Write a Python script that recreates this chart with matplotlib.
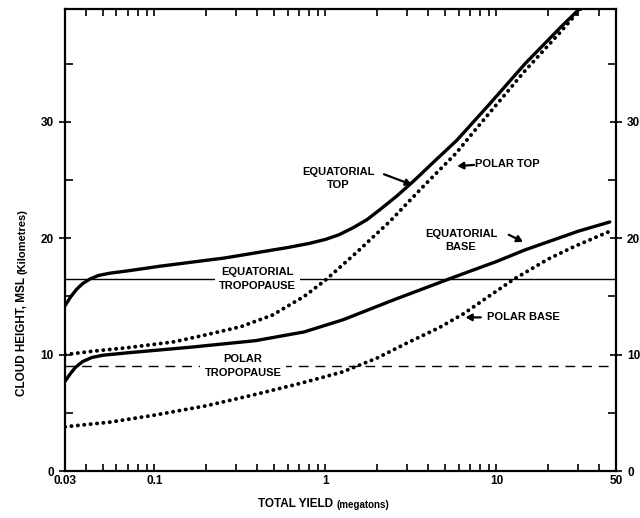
import matplotlib
matplotlib.use("Agg")
import matplotlib.pyplot as plt
from matplotlib.ticker import FixedLocator, FixedFormatter, NullFormatter

plt.rcParams['font.family'] = ['Liberation Sans', 'DejaVu Sans']

# cloud top / base heights (km) against total yield (Mt)
eq_top_x = [0.03, 0.0325, 0.035, 0.038, 0.042, 0.047, 0.055, 0.07, 0.108, 0.256, 0.6,
            0.8, 1.0, 1.2, 1.45, 1.75, 2.1, 2.6, 3.27, 4.4, 5.85, 9.2, 14.7, 23.6, 31]
eq_top_y = [14.2, 15.0, 15.6, 16.1, 16.5, 16.8, 17.0, 17.2, 17.6, 18.3, 19.2,
            19.55, 19.9, 20.3, 20.9, 21.6, 22.5, 23.6, 24.9, 26.7, 28.4, 31.6, 35.0, 38.1, 39.8]

polar_top_x = [0.03, 0.044, 0.07, 0.13, 0.2, 0.32, 0.49, 0.75, 1.0, 1.5, 2.4, 3.7,
               5.8, 7.7, 14.7, 23.6, 31]
polar_top_y = [10.0, 10.3, 10.6, 11.1, 11.7, 12.4, 13.4, 15.0, 16.4, 18.7, 21.5, 24.4,
               27.3, 29.5, 34.4, 37.7, 39.7]

eq_base_x = [0.03, 0.032, 0.0345, 0.038, 0.043, 0.05, 0.069, 0.166, 0.39, 0.75, 1.27,
             2.5, 5.5, 10, 14.7, 30, 46]
eq_base_y = [7.7, 8.3, 8.9, 9.4, 9.75, 9.95, 10.15, 10.65, 11.2, 11.95, 13.0,
             14.7, 16.6, 18.0, 19.0, 20.6, 21.4]

polar_base_x = [0.03, 0.055, 0.1, 0.2, 0.37, 0.7, 1.25, 2.0, 3.0, 4.6, 6.4, 9.0, 12.7,
                20, 28.6, 46]
polar_base_y = [3.8, 4.2, 4.8, 5.6, 6.5, 7.5, 8.5, 9.7, 11.0, 12.3, 13.5, 15.0, 16.5,
                18.2, 19.3, 20.6]

eq_tropopause = 16.5
polar_tropopause = 9.0

xticks = [0.03, 0.1, 1, 10, 50]
xtick_labels = ['0.03', '0.1', '1', '10', '50']
xminor = [0.04, 0.05, 0.06, 0.07, 0.08, 0.09,
          0.2, 0.3, 0.4, 0.5, 0.6, 0.7, 0.8, 0.9,
          2, 3, 4, 5, 6, 7, 8, 9, 20, 30, 40]
yticks = [0, 10, 20, 30]
yminor = [5, 15, 25, 35]

fig = plt.figure(figsize=(6.4, 5.18), dpi=100)
ax = fig.add_axes([65 / 640, 1 - 471 / 518, (616 - 65) / 640, (471 - 9) / 518])
ax.set_xscale('log')
ax.set_xlim(0.03, 50)
ax.set_ylim(0, 39.7)

# tropopause levels (thin)
ax.axhline(eq_tropopause, color='black', lw=1.0, zorder=1)
ax.axhline(polar_tropopause, color='black', lw=1.0, ls=(0, (7, 5)), zorder=1)

# cloud curves
ax.plot(eq_top_x, eq_top_y, color='black', lw=2.4, solid_capstyle='round',
        solid_joinstyle='round', zorder=3)
ax.plot(eq_base_x, eq_base_y, color='black', lw=2.4, solid_capstyle='round',
        solid_joinstyle='round', zorder=3)
dot = (0, (0.05, 1.6))
ax.plot(polar_top_x, polar_top_y, color='black', lw=2.8, ls=dot, dash_capstyle='round', zorder=3)
ax.plot(polar_base_x, polar_base_y, color='black', lw=2.8, ls=dot, dash_capstyle='round', zorder=3)

lbl = dict(fontsize=8, fontweight='bold', linespacing=1.45)
wbox = dict(facecolor='white', edgecolor='none', pad=3)
ax.text(0.40, eq_tropopause, 'EQUATORIAL\nTROPOPAUSE', ha='center', va='center',
        bbox=wbox, zorder=2, **lbl)
ax.text(0.33, polar_tropopause, 'POLAR\nTROPOPAUSE', ha='center', va='center',
        bbox=wbox, zorder=2, **lbl)

arrow = dict(arrowstyle='-|>,head_length=0.35,head_width=0.2', color='black', lw=1.6,
             shrinkA=0, shrinkB=0)
ax.text(1.19, 25.15, 'EQUATORIAL\nTOP', ha='center', va='center', **lbl)
ax.annotate('', xy=(3.2, 24.6), xytext=(2.2, 25.5), arrowprops=arrow)
ax.text(7.5, 26.4, 'POLAR TOP', ha='left', va='center', **lbl)
ax.annotate('', xy=(5.9, 26.2), xytext=(7.4, 26.3), arrowprops=arrow)
ax.text(6.2, 19.8, 'EQUATORIAL\nBASE', ha='center', va='center', **lbl)
ax.annotate('', xy=(14.3, 19.7), xytext=(11.8, 20.3), arrowprops=arrow)
ax.text(8.8, 13.25, 'POLAR BASE', ha='left', va='center', **lbl)
ax.annotate('', xy=(6.6, 13.2), xytext=(8.1, 13.2), arrowprops=arrow)

# axes, ticks
for s in ax.spines.values():
    s.set_linewidth(1.6)
ax.xaxis.set_major_locator(FixedLocator(xticks))
ax.xaxis.set_major_formatter(FixedFormatter(xtick_labels))
ax.xaxis.set_minor_locator(FixedLocator(xminor))
ax.xaxis.set_minor_formatter(NullFormatter())
ax.yaxis.set_major_locator(FixedLocator(yticks))
ax.yaxis.set_minor_locator(FixedLocator(yminor))
ax.tick_params(axis='x', which='both', direction='in', top=True, bottom=True,
               length=5, width=1.2, pad=3)
ax.tick_params(axis='y', which='major', direction='inout', left=True, right=True,
               labelleft=True, labelright=True, length=8, width=1.2, pad=4)
ax.tick_params(axis='y', which='minor', direction='in', left=True, right=True,
               length=6, width=1.2)
for t in ax.get_xticklabels() + ax.get_yticklabels():
    t.set_fontsize(8.5)
    t.set_fontweight('bold')

# axis titles with smaller unit text
xl = fig.text(258 / 640, 1 - 510 / 518, 'TOTAL YIELD ', ha='left', va='bottom',
              fontsize=8.5, fontweight='bold')
ax.annotate('(megatons)', xy=(1, 0), xycoords=xl, ha='left', va='bottom',
            fontsize=7, fontweight='bold')
yl = fig.text(22 / 640, 1 - 396 / 518, 'CLOUD HEIGHT, MSL ', ha='center', va='bottom',
              rotation=90, fontsize=8.5, fontweight='bold')
ax.annotate('(Kilometres)', xy=(0.5, 1), xycoords=yl, ha='center', va='bottom',
            rotation=90, fontsize=8, fontweight='bold')

fig.savefig('out.png', dpi=100)
